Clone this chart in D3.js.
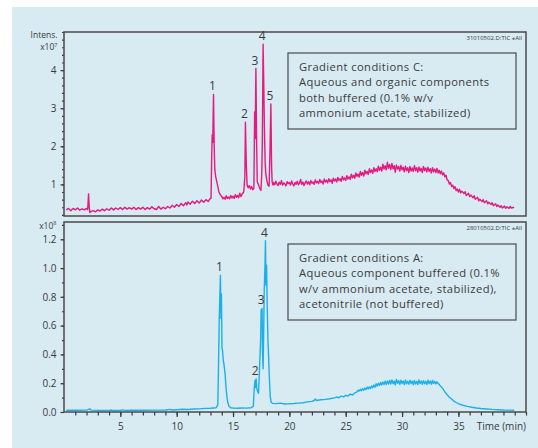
<!DOCTYPE html>
<html><head><meta charset="utf-8">
<script src="https://cdn.jsdelivr.net/npm/d3@7"></script>
<style>
html,body{margin:0;padding:0;background:#fff;}
svg{display:block;font-family:"Open Sans",sans-serif;}
</style></head>
<body>
<svg id="c" width="538" height="448"></svg>
<script>
// ---- Data (time in min, intensity) ----
// Top trace: gradient conditions C, intensity x10^7
const traceC = [[0.2,.33],[0.4,.37],[0.6,.31],[0.8,.37],[1.0,.33],[1.2,.38],[1.4,.32],[1.6,.36],[1.8,.33],[2.0,.37],[2.1,.34],[2.18,.75],[2.24,.40],[2.3,.26],[2.4,.29],[2.6,.31],[2.8,.28],[3.0,.33],[3.2,.30],[3.4,.35],[3.6,.31],[3.8,.36],[4.0,.32],[4.2,.38],[4.4,.33],[4.6,.38],[4.8,.34],[5.0,.39],[5.2,.34],[5.4,.40],[5.6,.35],[5.8,.39],[6.0,.35],[6.2,.40],[6.4,.34],[6.6,.39],[6.8,.35],[7.0,.40],[7.2,.34],[7.4,.39],[7.6,.35],[7.8,.41],[8.0,.36],[8.2,.34],[8.4,.42],[8.6,.35],[8.8,.40],[9.0,.36],[9.2,.42],[9.4,.38],[9.6,.45],[9.8,.40],[10.0,.47],[10.2,.42],[10.4,.50],[10.6,.44],[10.8,.52],[10.9,.46],[11.0,.54],[11.2,.48],[11.4,.56],[11.6,.50],[11.8,.57],[12.0,.51],[12.2,.59],[12.4,.53],[12.6,.60],[12.8,.55],[12.95,.62],[13.05,.64],
[13.1,1.6],[13.15,2.3],[13.2,2.1],[13.27,3.36],[13.33,2.0],[13.38,1.4],[13.45,1.22],[13.55,1.08],[13.65,0.95],[13.75,0.80],[13.85,0.74],[14.0,0.68],[14.1,0.62],[14.2,0.66],[14.3,0.61],[14.4,0.70],[14.5,0.63],[14.6,0.67],[14.7,0.62],[14.8,0.71],[14.9,0.64],[15.0,0.69],[15.1,0.63],[15.2,0.73],[15.3,0.66],[15.4,0.71],[15.5,0.65],[15.6,0.77],[15.7,0.68],[15.8,0.74],[15.95,0.80],[16.05,1.2],[16.1,2.63],[16.18,1.5],[16.25,0.98],[16.35,0.91],[16.45,0.97],[16.55,0.88],[16.65,0.94],[16.75,0.86],[16.85,0.90],[16.92,2.9],[16.97,2.2],[17.03,4.04],[17.1,2.0],[17.15,1.07],[17.25,1.0],[17.3,0.95],[17.4,0.88],[17.48,0.84],[17.55,1.3],[17.6,2.12],[17.67,4.68],[17.73,3.6],[17.78,2.56],[17.85,1.6],[17.9,1.3],[18.0,1.1],[18.1,0.98],[18.2,0.95],[18.28,1.86],[18.36,3.11],[18.42,1.5],[18.47,1.07],[18.55,0.98],
[18.6,1.05],[18.7,0.99],[18.8,1.08],[18.9,1.01],[19.0,0.97],[19.1,1.06],[19.2,1.00],[19.3,1.10],[19.4,0.98],[19.5,1.04],[19.6,1.01],[19.7,0.96],[19.8,1.07],[19.9,1.02],[20.0,1.05],[20.1,0.98],[20.2,1.09],[20.3,1.01],[20.4,0.96],[20.5,1.05],[20.6,1.00],[20.7,1.08],[20.8,0.99],[20.9,1.03],[21.0,1.13],[21.1,1.00],[21.2,1.06],[21.3,0.97],[21.4,1.04],[21.5,1.09],[21.6,1.01],[21.7,1.07],[21.8,0.99],[21.9,1.10],[22.0,1.03],[22.1,1.06],[22.2,1.00],[22.3,1.12],[22.4,1.04],[22.5,1.08],[22.6,1.02],[22.7,1.13],[22.8,1.05],[22.9,1.09],[23.0,1.01],[23.1,1.14],[23.2,1.06],[23.3,1.11],[23.4,1.04],[23.5,1.15],[23.6,1.07],[23.7,1.12],[23.8,1.03],[23.9,1.16],[24.0,1.09],[24.1,1.14],[24.2,1.06],[24.3,1.18],[24.4,1.10],[24.5,1.15],[24.6,1.08],[24.7,1.21],[24.8,1.12],[24.9,1.17],[25.0,1.10],[25.1,1.23],[25.2,1.14],[25.3,1.20],[25.4,1.13],[25.5,1.27],[25.6,1.17],[25.7,1.24],[25.8,1.16],[25.9,1.30],[26.0,1.21],[26.1,1.27],[26.2,1.19],[26.3,1.34],[26.4,1.24],[26.5,1.31],[26.6,1.22],[26.7,1.37],[26.8,1.28],[26.9,1.34],[27.0,1.26],[27.1,1.41],[27.2,1.31],[27.3,1.38],[27.4,1.29],[27.5,1.44],[27.6,1.34],[27.7,1.41],[27.8,1.33],[27.9,1.48],[28.0,1.37],[28.1,1.45],[28.2,1.35],[28.3,1.53],[28.4,1.40],[28.5,1.49],[28.6,1.38],[28.7,1.58],[28.8,1.42],[28.9,1.52],[29.0,1.39],[29.1,1.55],[29.2,1.41],[29.3,1.49],[29.4,1.32],[29.5,1.51],[29.6,1.40],[29.7,1.47],[29.8,1.35],[29.9,1.50],[30.0,1.38],[30.1,1.45],[30.2,1.33],[30.3,1.48],[30.4,1.36],[30.5,1.44],[30.6,1.31],[30.7,1.47],[30.8,1.35],[30.9,1.43],[31.0,1.34],[31.1,1.49],[31.2,1.36],[31.3,1.44],[31.4,1.32],[31.5,1.46],[31.6,1.35],[31.7,1.42],[31.8,1.31],[31.9,1.47],[32.0,1.36],[32.1,1.43],[32.2,1.33],[32.3,1.45],[32.4,1.34],[32.5,1.41],[32.6,1.30],[32.7,1.44],[32.8,1.33],[32.9,1.40],[33.0,1.31],[33.1,1.42],[33.2,1.30],[33.3,1.37],[33.4,1.28],[33.5,1.35],[33.6,1.25],[33.7,1.30],[33.8,1.20],[33.9,1.24],[34.0,1.12],
[34.1,1.10],[34.2,1.01],[34.3,1.05],[34.4,0.94],[34.5,0.98],[34.6,0.89],[34.7,0.94],[34.8,0.84],[34.9,0.88],[35.0,0.80],[35.1,0.87],[35.2,0.78],[35.3,0.82],[35.5,0.76],[35.6,0.81],[35.7,0.71],[35.9,0.77],[36.0,0.68],[36.1,0.72],[36.3,0.65],[36.4,0.70],[36.5,0.61],[36.7,0.66],[36.8,0.57],[36.9,0.61],[37.1,0.55],[37.2,0.60],[37.3,0.52],[37.5,0.57],[37.6,0.49],[37.7,0.53],[37.9,0.47],[38.0,0.52],[38.1,0.44],[38.3,0.49],[38.4,0.42],[38.5,0.46],[38.7,0.40],[38.8,0.44],[38.9,0.38],[39.1,0.43],[39.2,0.37],[39.3,0.41],[39.5,0.37],[39.6,0.42],[39.7,0.38],[39.95,0.40]];

// Bottom trace: gradient conditions A, intensity x10^8
const traceA = [[0.2,.012],[1.0,.012],[2.0,.013],[2.3,.022],[2.4,.013],[3.0,.011],[4.0,.010],[4.2,.014],[4.4,.010],[5.0,.011],[5.2,.015],[5.4,.011],[6.0,.012],[7.0,.012],[8.0,.013],[9.0,.014],[9.4,.018],[9.6,.014],[10.0,.016],[10.5,.019],[11.0,.017],[11.5,.021],[12.0,.022],[12.5,.025],[13.0,.026],[13.5,.030],[13.65,.05],[13.72,.35],[13.78,.66],[13.82,.77],[13.88,.95],[13.93,.65],[13.97,.82],[14.02,.45],[14.08,.42],[14.13,.36],[14.2,.33],[14.3,.26],[14.4,.15],[14.47,.10],[14.55,.06],[14.65,.04],[14.8,.03],[15.0,.028],[15.4,.026],[15.8,.028],[16.2,.027],[16.6,.030],[16.8,.04],[16.88,.16],[16.95,.22],[17.0,.17],[17.05,.23],[17.12,.16],[17.2,.14],[17.26,.13],[17.32,.24],[17.38,.36],[17.45,.50],[17.5,.71],[17.55,.64],[17.58,.72],[17.62,.40],[17.67,.30],[17.72,.55],[17.77,.85],[17.83,1.0],[17.88,1.19],[17.92,0.88],[17.98,1.02],[18.03,0.75],[18.1,0.5],[18.15,0.4],[18.22,0.25],[18.3,0.11],[18.38,0.07],[18.5,0.06],[18.8,0.058],[19.2,0.062],[19.6,0.056],[20.0,0.057],[20.4,0.059],[20.8,0.062],[21.2,0.064],[21.6,0.07],[22.0,0.074],[22.2,0.08],[22.3,0.09],[22.4,0.08],[22.8,0.085],[23.2,0.088],[23.6,0.092],[24.0,0.098],[24.2,0.104],[24.4,0.099],[24.6,0.11],[24.8,0.105],[25.0,0.116],[25.2,0.111],[25.4,0.124],[25.6,0.118],[25.8,0.132],
[26.0,0.140],[26.1,0.152],[26.2,0.145],[26.3,0.158],[26.4,0.148],[26.5,0.162],[26.6,0.151],[26.7,0.166],[26.8,0.155],[26.9,0.172],[27.0,0.160],[27.1,0.175],[27.2,0.163],[27.3,0.181],[27.4,0.168],[27.5,0.187],[27.6,0.172],[27.7,0.196],[27.8,0.180],[27.9,0.200],[28.0,0.184],[28.1,0.205],[28.2,0.188],[28.3,0.209],[28.4,0.191],[28.5,0.214],[28.6,0.190],[28.7,0.216],[28.8,0.194],[28.9,0.219],[29.0,0.195],[29.1,0.222],[29.2,0.197],[29.3,0.215],[29.4,0.188],[29.5,0.226],[29.6,0.199],[29.7,0.218],[29.8,0.193],[29.9,0.221],[30.0,0.198],[30.1,0.216],[30.2,0.190],[30.3,0.223],[30.4,0.196],[30.5,0.214],[30.6,0.192],[30.7,0.220],[30.8,0.197],[30.9,0.215],[31.0,0.189],[31.1,0.219],[31.2,0.195],[31.3,0.213],[31.4,0.191],[31.5,0.222],[31.6,0.198],[31.7,0.216],[31.8,0.192],[31.9,0.218],[32.0,0.196],[32.1,0.214],[32.2,0.190],[32.3,0.221],[32.4,0.197],[32.5,0.215],[32.6,0.193],[32.7,0.219],[32.8,0.198],[32.9,0.213],[33.0,0.195],[33.1,0.210],[33.2,0.198],[33.3,0.192],[33.4,0.180],
[33.6,0.165],[33.8,0.14],[34.0,0.12],[34.2,0.103],[34.4,0.09],[34.6,0.075],[34.8,0.066],[35.0,0.058],[35.4,0.047],[35.8,0.039],[36.2,0.033],[36.6,0.028],[37.0,0.024],[37.5,0.021],[38.0,0.018],[38.5,0.016],[39.0,0.014],[39.5,0.013],[39.95,0.012]];

const peaksC = [["1",13.27,3.36],["2",16.1,2.63],["3",17.03,4.04],["4",17.67,4.68],["5",18.36,3.11]];
const peaksA = [["1",13.88,0.95],["2",17.05,0.23],["3",17.58,0.72],["4",17.88,1.19]];

const ticksTopMajor = [1,2,3,4];
const ticksBotMajor = [0,0.2,0.4,0.6,0.8,1.0,1.2];
const ticksXMajor = [5,10,15,20,25,30,35];

const legendC = ["Gradient conditions C:","Aqueous and organic components","both buffered (0.1% w/v","ammonium acetate, stabilized)"];
const legendA = ["Gradient conditions A:","Aqueous component buffered (0.1%","w/v ammonium acetate, stabilized),","acetonitrile (not buffered)"];
const fileC = "31010502.D:TIC \u00b1All";
const fileA = "28010502.D:TIC \u00b1All";

// ---- Drawing ----
const svg = d3.select("#c");
const ink = "#3a3a3a";
svg.append("rect").attr("x",12).attr("y",7).attr("width",526).attr("height",441).attr("fill","#d8eaf2");

const L = 64, R = 526;
const x = d3.scaleLinear().domain([0,41]).range([L,R]);
const yC = d3.scaleLinear().domain([0.17,5.0]).range([216,32]);
const yA = d3.scaleLinear().domain([0,1.32]).range([412,222]);

function panel(y, top, bottom, majors, minorStep, fmt, trace, color, peaks, legend, legTop, file) {
  const dom = y.domain();
  const minors = d3.range(Math.ceil(dom[0]/minorStep - 1e-9)*minorStep, dom[1]+1e-9, minorStep).map(v=>+v.toFixed(3));
  const gMin = svg.append("g").attr("transform",`translate(${L},0)`)
    .call(d3.axisLeft(y).tickValues(minors).tickSize(2).tickFormat(""));
  gMin.select(".domain").remove();
  const gMaj = svg.append("g").attr("transform",`translate(${L},0)`)
    .call(d3.axisLeft(y).tickValues(majors).tickSize(3.5).tickPadding(4).tickFormat(fmt));
  gMaj.select(".domain").remove();
  [gMin,gMaj].forEach(g=>{g.selectAll("line").attr("stroke",ink).attr("stroke-width",1.2);
    g.selectAll("text").attr("fill",ink).attr("font-size",10).attr("font-family","'Open Sans',sans-serif");});

  const line = d3.line().x(d=>x(d[0])).y(d=>y(d[1]));
  svg.append("path").datum(trace).attr("d",line).attr("fill","none")
    .attr("stroke",color).attr("stroke-width",1.4).attr("stroke-linejoin","round");

  svg.append("rect").attr("x",L).attr("y",top).attr("width",R-L).attr("height",bottom-top)
    .attr("fill","none").attr("stroke","#4a4a4a").attr("stroke-width",1.5);

  svg.selectAll(null).data(peaks).enter().append("text")
    .attr("x",d=>x(d[1])-1).attr("y",d=>y(d[2])-4)
    .attr("text-anchor","middle").attr("font-size",12).attr("fill",ink).text(d=>d[0]);

  svg.append("text").attr("x",522).attr("y",top+8).attr("text-anchor","end")
    .attr("font-size",6).attr("fill",ink).text(file);

  svg.append("rect").attr("x",288).attr("y",legTop).attr("width",228).attr("height",76)
    .attr("fill","none").attr("stroke","#4a4a4a").attr("stroke-width",1.2);
  svg.selectAll(null).data(legend).enter().append("text")
    .attr("x",299).attr("y",(d,i)=>legTop+18+i*15.3)
    .attr("font-size",11.2).attr("letter-spacing",0.4).attr("fill",ink).text(d=>d);
}

panel(yC, 32, 216, ticksTopMajor, 0.2, d3.format("d"), traceC, "#e6197f", peaksC, legendC, 53, fileC);
panel(yA, 222, 412, ticksBotMajor, 0.1, d3.format(".1f"), traceA, "#1bb1e7", peaksA, legendA, 244, fileA);

// x axis (bottom panel)
const gxMin = svg.append("g").attr("transform","translate(0,412)")
  .call(d3.axisBottom(x).tickValues(d3.range(1,42)).tickSize(3.5).tickFormat(""));
const gxMaj = svg.append("g").attr("transform","translate(0,412)")
  .call(d3.axisBottom(x).tickValues(ticksXMajor).tickSize(5).tickPadding(6).tickFormat(d3.format("d")));
[gxMin,gxMaj].forEach(g=>{g.select(".domain").remove();
  g.selectAll("line").attr("stroke",ink).attr("stroke-width",1.2);
  g.selectAll("text").attr("fill",ink).attr("font-size",10).attr("font-family","'Open Sans',sans-serif");});
svg.append("text").attr("x",526).attr("y",430).attr("text-anchor","end")
  .attr("font-size",10).attr("fill",ink).text("Time (min)");

// axis unit labels
svg.append("text").attr("x",57.5).attr("y",37.6).attr("text-anchor","end")
  .attr("font-size",8.5).attr("fill",ink).text("Intens.");
const u7 = svg.append("text").attr("x",57.5).attr("y",50.2).attr("text-anchor","end").attr("font-size",8.5).attr("fill",ink);
u7.append("tspan").text("x10");
u7.append("tspan").attr("font-size",5.5).attr("dy",-3.4).text("7");
const u8 = svg.append("text").attr("x",56.5).attr("y",228.5).attr("text-anchor","end").attr("font-size",8.5).attr("fill",ink);
u8.append("tspan").text("x10");
u8.append("tspan").attr("font-size",5.5).attr("dy",-3.4).text("8");
</script>
</body></html>
